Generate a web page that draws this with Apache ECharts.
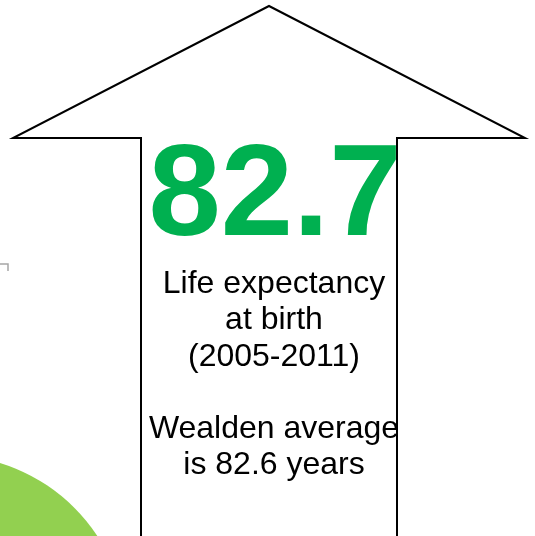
<!DOCTYPE html>
<html><head><meta charset="utf-8">
<script src="https://cdn.jsdelivr.net/npm/echarts@6/dist/echarts.min.js"></script>
<style>html,body{margin:0;padding:0;background:#fff;overflow:hidden}#c{width:535px;height:536px}</style>
</head><body><div id="c"></div>
<script>
// Data
const headlineValue = [82.7];
const periodYears = [2005, 2011];
const areaName = ['Wealden'];
const areaAverage = [82.6];
const labelLines = ['Life expectancy', 'at birth'];

const chart = echarts.init(document.getElementById('c'), null, {renderer: 'canvas'});

const bodyText = [
  labelLines[0],
  labelLines[1],
  '(' + periodYears[0] + '-' + periodYears[1] + ')',
  '',
  areaName[0] + ' average',
  'is ' + areaAverage[0].toFixed(1) + ' years'
].join('\n');

chart.setOption({
  backgroundColor: '#ffffff',
  animation: false,
  graphic: [
    {
      type: 'circle',
      shape: {cx: -53, cy: 635, r: 180},
      style: {fill: '#92D050'},
      z: 1
    },
    {
      type: 'polyline',
      shape: {points: [[0, 264], [8, 264], [8, 271]]},
      style: {stroke: '#a6a6a6', lineWidth: 1.5, fill: null},
      z: 1
    },
    {
      type: 'polygon',
      shape: {points: [[141, 545], [141, 138], [13, 138], [269, 6], [525, 138], [397, 138], [397, 545]]},
      style: {fill: '#ffffff', stroke: '#000000', lineWidth: 2, lineJoin: 'miter'},
      z: 2
    },
    {
      type: 'text',
      x: 275, y: 199,
      style: {
        text: headlineValue[0].toFixed(1),
        fill: '#00B050',
        font: 'bold 130px "Liberation Sans", Arial, sans-serif',
        align: 'center',
        verticalAlign: 'middle'
      },
      z: 3
    },
    {
      type: 'text',
      x: 274, y: 266,
      style: {
        text: bodyText,
        fill: '#000000',
        font: '32px "Liberation Sans", Arial, sans-serif',
        lineHeight: 36.3,
        align: 'center',
        verticalAlign: 'top'
      },
      z: 3
    }
  ]
});
</script>
</body></html>
